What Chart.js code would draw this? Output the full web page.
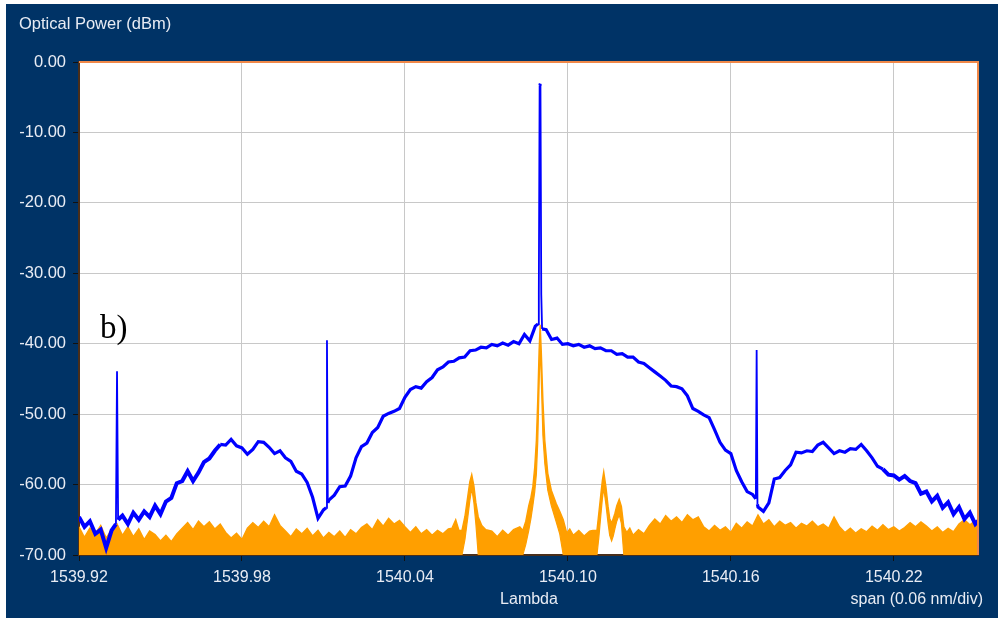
<!DOCTYPE html>
<html>
<head>
<meta charset="utf-8">
<script src="https://cdn.jsdelivr.net/npm/chart.js@4.4.1/dist/chart.umd.min.js"></script>
<style>
  html, body { margin: 0; padding: 0; background: #ffffff; }
</style>
</head>
<body>
<canvas id="osaChart" width="1000" height="621"></canvas>
<script>
// Spectre OSA : trace bleue (avec pompe) et trace orange (sans), en dBm

const xTickValues = [1539.92, 1539.98, 1540.04, 1540.10, 1540.16, 1540.22];

// trace bleue - lambda (nm)
const blueX = [
  1539.920, 1539.922, 1539.924, 1539.926, 1539.928, 1539.930, 1539.932,
  1539.9336, 1539.9340, 1539.9344,
  1539.936, 1539.938, 1539.940, 1539.942, 1539.944, 1539.946, 1539.948, 1539.950,
  1539.952, 1539.954, 1539.956, 1539.958, 1539.960, 1539.962, 1539.964, 1539.966,
  1539.968, 1539.970, 1539.972, 1539.974, 1539.976, 1539.978, 1539.980, 1539.982,
  1539.984, 1539.986, 1539.988, 1539.990, 1539.992, 1539.994, 1539.996, 1539.998,
  1540.000, 1540.002, 1540.004, 1540.006, 1540.008, 1540.010,
  1540.0110, 1540.0113, 1540.0116,
  1540.012, 1540.014, 1540.016, 1540.018, 1540.020, 1540.022, 1540.024, 1540.026,
  1540.028, 1540.030, 1540.032, 1540.034, 1540.036, 1540.038, 1540.040, 1540.042,
  1540.044, 1540.046, 1540.048, 1540.050, 1540.052, 1540.054, 1540.056, 1540.058,
  1540.060, 1540.062, 1540.064, 1540.066, 1540.068, 1540.070, 1540.072, 1540.074,
  1540.076, 1540.078, 1540.080, 1540.082, 1540.084, 1540.086, 1540.088,
  1540.0890, 1540.0893, 1540.0896, 1540.0899, 1540.0902, 1540.0905,
  1540.092, 1540.094, 1540.096, 1540.098, 1540.100, 1540.102, 1540.104, 1540.106,
  1540.108, 1540.110, 1540.112, 1540.114, 1540.116, 1540.118, 1540.120, 1540.122,
  1540.124, 1540.126, 1540.128, 1540.130, 1540.132, 1540.134, 1540.136, 1540.138,
  1540.140, 1540.142, 1540.144, 1540.146, 1540.148, 1540.150, 1540.152, 1540.154,
  1540.156, 1540.158, 1540.160, 1540.162, 1540.164, 1540.166, 1540.168,
  1540.1692, 1540.1695, 1540.1698,
  1540.170, 1540.172, 1540.174, 1540.176, 1540.178, 1540.180, 1540.182, 1540.184,
  1540.186, 1540.188, 1540.190, 1540.192, 1540.194, 1540.196, 1540.198, 1540.200,
  1540.202, 1540.204, 1540.206, 1540.208, 1540.210, 1540.212, 1540.214, 1540.216,
  1540.218, 1540.220, 1540.222, 1540.224, 1540.226, 1540.228, 1540.230, 1540.232,
  1540.234, 1540.236, 1540.238, 1540.240, 1540.242, 1540.244, 1540.246, 1540.248,
  1540.250, 1540.252
];
// trace bleue - puissance (dBm)
const blueY = [
  -64.6, -66.0, -65.2, -67.0, -66.4, -69.0, -66.5,
  -65.6, -43.9, -65.0,
  -64.4, -65.6, -64.0, -65.0, -63.8, -64.6, -63.0, -64.2,
  -62.4, -61.9, -59.8, -59.5, -58.1, -59.5, -58.3, -56.8,
  -56.3, -55.2, -54.3, -54.4, -53.6, -54.5, -54.8, -55.7,
  -55.0, -53.9, -54.0, -54.7, -55.6, -55.2, -56.2, -56.7,
  -58.1, -58.5, -59.7, -61.8, -64.8, -63.6,
  -63.3, -39.5, -62.6,
  -62.2, -61.5, -60.3, -60.2, -58.8, -56.2, -54.6, -54.1,
  -52.6, -51.9, -50.3, -49.9, -49.6, -49.2, -47.6, -46.5,
  -46.1, -46.3, -45.4, -44.8, -43.7, -43.3, -42.6, -42.5,
  -42.0, -41.9, -41.0, -40.9, -40.5, -40.6, -40.1, -40.3,
  -39.9, -40.2, -39.7, -40.0, -38.7, -39.6, -37.5,
  -37.2, -33.0, -3.3, -3.1, -33.0, -37.9,
  -38.0, -39.4, -39.2, -40.1, -40.0, -40.3, -40.1, -40.5,
  -40.3, -40.7, -40.6, -41.0, -41.0, -41.5, -41.4, -41.9,
  -41.9, -42.6, -42.8, -43.4, -44.0, -44.6, -45.2, -46.0,
  -46.1, -46.4, -47.4, -49.2, -49.6, -50.1, -50.5, -52.2,
  -54.0, -55.1, -55.6, -58.0, -59.6, -61.0, -61.4,
  -62.0, -40.9, -62.8,
  -63.2, -63.8, -62.6, -59.2, -59.0, -58.0, -57.2, -55.4,
  -55.5, -55.2, -55.3, -54.4, -54.0, -54.8, -55.6, -55.2,
  -55.4, -54.9, -55.0, -54.3, -55.2, -56.2, -57.4, -57.8,
  -58.6, -58.7, -59.3, -58.8, -59.5, -59.8, -61.3, -61.0,
  -62.4, -61.6, -63.3, -62.5, -64.2, -63.2, -64.9, -64.0,
  -65.6, -64.8
];

// trace orange - lambda (nm)
const orangeX = [
  1539.920, 1539.922, 1539.924, 1539.926, 1539.928, 1539.930, 1539.932, 1539.934,
  1539.936, 1539.938, 1539.940, 1539.942, 1539.944, 1539.946, 1539.948, 1539.950,
  1539.952, 1539.954, 1539.956, 1539.958, 1539.960, 1539.962, 1539.964, 1539.966,
  1539.968, 1539.970, 1539.972, 1539.974, 1539.976, 1539.978, 1539.980, 1539.982,
  1539.984, 1539.986, 1539.988, 1539.990, 1539.992, 1539.994, 1539.996, 1539.998,
  1540.000, 1540.002, 1540.004, 1540.006, 1540.008, 1540.010, 1540.012, 1540.014,
  1540.016, 1540.018, 1540.020, 1540.022, 1540.024, 1540.026, 1540.028, 1540.030,
  1540.032, 1540.034, 1540.036, 1540.038, 1540.040, 1540.042, 1540.044, 1540.046,
  1540.048, 1540.050, 1540.052, 1540.054, 1540.056,
  1540.0573, 1540.0587, 1540.0599, 1540.0610, 1540.0621, 1540.0632, 1540.0639,
  1540.0646, 1540.0654, 1540.0661, 1540.0670, 1540.0683, 1540.0698,
  1540.072, 1540.074, 1540.076, 1540.078, 1540.080,
  1540.0823, 1540.0834, 1540.0845, 1540.0856, 1540.0864, 1540.0871, 1540.0878,
  1540.0884, 1540.0889, 1540.0894, 1540.0898, 1540.0902, 1540.0908, 1540.0915,
  1540.0926, 1540.0939, 1540.0957, 1540.0970, 1540.0983, 1540.0996, 1540.1007,
  1540.102, 1540.104, 1540.106, 1540.108,
  1540.1092, 1540.1107, 1540.1114, 1540.1121, 1540.1127, 1540.1132, 1540.1140,
  1540.1148, 1540.1154, 1540.1161, 1540.1167, 1540.1173, 1540.1180, 1540.1189,
  1540.1197, 1540.1206, 1540.1217, 1540.1228,
  1540.124, 1540.126, 1540.128, 1540.130, 1540.132, 1540.134, 1540.136, 1540.138,
  1540.140, 1540.142, 1540.144, 1540.146, 1540.148, 1540.150, 1540.152, 1540.154,
  1540.156, 1540.158, 1540.160, 1540.162, 1540.164, 1540.166, 1540.168, 1540.170,
  1540.172, 1540.174, 1540.176, 1540.178, 1540.180, 1540.182, 1540.184, 1540.186,
  1540.188, 1540.190, 1540.192, 1540.194, 1540.196, 1540.198, 1540.200, 1540.202,
  1540.204, 1540.206, 1540.208, 1540.210, 1540.212, 1540.214, 1540.216, 1540.218,
  1540.220, 1540.222, 1540.224, 1540.226, 1540.228, 1540.230, 1540.232, 1540.234,
  1540.236, 1540.238, 1540.240, 1540.242, 1540.244, 1540.246, 1540.248, 1540.250,
  1540.252
];
// haut de l'enveloppe orange (dBm)
const orangeTop = [
  -66.0, -67.5, -66.2, -67.0, -65.8, -67.6, -66.4, -65.6,
  -67.2, -66.0, -67.4, -66.3, -67.8, -66.6, -67.1, -68.0,
  -67.2, -68.1, -67.0, -66.2, -65.4, -66.4, -65.2, -66.0,
  -65.3, -66.3, -65.6, -66.8, -67.6, -66.9, -67.8, -66.2,
  -65.4, -66.1, -65.2, -66.0, -64.3, -65.8, -66.6, -67.4,
  -66.3, -67.0, -66.2, -67.3, -66.5, -67.6, -66.8, -67.4,
  -66.6, -67.5, -66.4, -67.0, -66.1, -65.6, -66.4, -65.0,
  -65.9, -64.8, -65.6, -65.1, -66.0, -66.8, -66.0, -67.0,
  -66.4, -67.2, -66.5, -67.0, -66.3,
  -66.2, -65.0, -66.5, -66.5, -64.5, -61.5, -59.6,
  -58.6, -60.2, -62.5, -64.6, -65.8, -66.4,
  -66.6, -67.4, -66.5, -67.2, -66.4,
  -66.0, -66.5, -65.2, -63.0, -61.8, -60.3, -57.5,
  -53.7, -48.0, -41.0, -37.3, -41.0, -48.0, -53.7,
  -58.4, -60.8, -62.7, -63.8, -65.0, -66.9, -66.3,
  -67.2, -66.5, -67.3, -66.6,
  -66.5, -66.5, -64.0, -61.5, -59.4, -58.2, -60.3,
  -63.1, -64.8, -65.5, -64.8, -64.1, -63.0, -62.1,
  -63.1, -66.0, -66.8, -66.2,
  -67.2, -66.4, -67.0, -65.8, -64.9, -65.6, -64.4, -65.2,
  -64.6, -65.4, -64.3, -65.0, -64.6, -66.0, -66.6, -65.8,
  -66.5, -66.0, -66.8, -65.5, -66.2, -65.3, -65.9, -64.3,
  -65.6, -65.0, -66.0, -65.2, -65.8, -65.4, -66.2, -65.5,
  -65.9, -65.2, -66.0, -65.6, -66.2, -64.6, -66.0, -66.8,
  -66.2, -66.9, -66.3, -66.7, -65.9, -66.5, -65.7, -66.4,
  -66.0, -66.6, -66.1, -65.4, -66.0, -65.3, -65.9, -66.6,
  -66.0, -66.8, -66.2, -66.7, -65.6, -65.0, -65.7, -65.1,
  -65.6
];
// bas de l'enveloppe orange (dBm)
const orangeBottom = [
  -70, -70, -70, -70, -70, -70, -70, -70,
  -70, -70, -70, -70, -70, -70, -70, -70,
  -70, -70, -70, -70, -70, -70, -70, -70,
  -70, -70, -70, -70, -70, -70, -70, -70,
  -70, -70, -70, -70, -70, -70, -70, -70,
  -70, -70, -70, -70, -70, -70, -70, -70,
  -70, -70, -70, -70, -70, -70, -70, -70,
  -70, -70, -70, -70, -70, -70, -70, -70,
  -70, -70, -70, -70, -70,
  -70, -70, -70, -70, -67.8, -64.5, -62.3,
  -60.5, -62.6, -65.5, -70, -70, -70,
  -70, -70, -70, -70, -70,
  -70, -70, -68.5, -66.5, -64.8, -63.0, -61.0,
  -58.5, -54.0, -46.0, -40.0, -45.0, -53.0, -57.0,
  -60.8, -63.0, -65.3, -67.0, -70, -70, -70,
  -70, -70, -70, -70,
  -70, -70, -67.5, -64.5, -62.0, -60.5, -62.8,
  -65.5, -67.2, -68.0, -67.3, -66.3, -65.2, -64.3,
  -65.5, -70, -70, -70,
  -70, -70, -70, -70, -70, -70, -70, -70,
  -70, -70, -70, -70, -70, -70, -70, -70,
  -70, -70, -70, -70, -70, -70, -70, -70,
  -70, -70, -70, -70, -70, -70, -70, -70,
  -70, -70, -70, -70, -70, -70, -70, -70,
  -70, -70, -70, -70, -70, -70, -70, -70,
  -70, -70, -70, -70, -70, -70, -70, -70,
  -70, -70, -70, -70, -70, -70, -70, -70,
  -70
];

const BG = "#003366";
const ORANGE = "#ff9f00";
const TXT = "#e8ecf4";
const FONT = "'Liberation Sans', Arial, sans-serif";

// cadre sombre, zone blanche, bords et textes
const osaFrame = {
  id: "osaFrame",
  beforeDraw: chart => {
    const ctx = chart.ctx;
    const a = chart.chartArea;
    ctx.save();
    ctx.fillStyle = "#ffffff";
    ctx.fillRect(0, 0, chart.width, chart.height);
    ctx.fillStyle = BG;
    ctx.fillRect(6, 4, 992, 614);
    ctx.fillStyle = "#ffffff";
    ctx.fillRect(a.left, a.top, a.right - a.left, a.bottom - a.top);
    ctx.restore();
  },
  afterDraw: chart => {
    const ctx = chart.ctx;
    const a = chart.chartArea;
    ctx.save();
    // bords haut et droit orange
    ctx.strokeStyle = "#f08848";
    ctx.lineWidth = 2;
    ctx.beginPath();
    ctx.moveTo(a.left, a.top);
    ctx.lineTo(a.right, a.top);
    ctx.lineTo(a.right, a.bottom);
    ctx.stroke();

    ctx.fillStyle = TXT;
    ctx.font = "16.5px " + FONT;
    ctx.textBaseline = "middle";
    ctx.textAlign = "left";
    ctx.fillText("Optical Power (dBm)", 19, 24);

    ctx.font = "16px " + FONT;
    ctx.textAlign = "center";
    ctx.fillText("Lambda", 529, 600);
    ctx.textAlign = "right";
    ctx.fillText("span (0.06 nm/div)", 983, 600);

    ctx.fillStyle = "#000000";
    ctx.font = "33px 'Liberation Serif', 'Times New Roman', serif";
    ctx.textAlign = "left";
    ctx.textBaseline = "alphabetic";
    ctx.fillText("b)", 100, 338);
    ctx.restore();
  }
};

// trait plus épais là où le bruit est fort, fin pour les raies
const blueWidth = c => {
  if (Math.abs(c.p1.parsed.y - c.p0.parsed.y) > 3.5) return 1.8;
  const x = c.p0.parsed.x;
  return (x < 1539.972 || x > 1540.214) ? 4 : 3.2;
};

const ctx = document.getElementById("osaChart").getContext("2d");

new Chart(ctx, {
  type: "line",
  data: {
    datasets: [
      {
        label: "blue",
        data: blueX.map((x, i) => ({ x: x, y: blueY[i] })),
        borderColor: "#0000ff",
        borderWidth: 3.2,
        segment: { borderWidth: blueWidth },
        pointRadius: 0,
        tension: 0,
        fill: false
      },
      {
        label: "orangeTop",
        data: orangeX.map((x, i) => ({ x: x, y: orangeTop[i] })),
        borderColor: ORANGE,
        backgroundColor: ORANGE,
        borderWidth: 1.4,
        pointRadius: 0,
        tension: 0,
        fill: "+1"
      },
      {
        label: "orangeBottom",
        data: orangeX.map((x, i) => ({ x: x, y: orangeBottom[i] })),
        borderColor: ORANGE,
        borderWidth: 1.2,
        pointRadius: 0,
        tension: 0,
        fill: false
      }
    ]
  },
  options: {
    responsive: false,
    animation: false,
    layout: { padding: { top: 62, right: 22, left: 0, bottom: 0 } },
    plugins: {
      legend: { display: false },
      tooltip: { enabled: false }
    },
    scales: {
      x: {
        type: "linear",
        min: 1539.92,
        max: 1540.251,
        afterBuildTicks: scale => {
          scale.ticks = xTickValues.map(v => ({ value: v }));
        },
        afterFit: scale => { scale.height = 66; },
        ticks: {
          color: TXT,
          font: { family: FONT, size: 16 },
          padding: 7,
          maxRotation: 0,
          autoSkip: false,
          callback: v => Number(v).toFixed(2)
        },
        grid: { color: "#c8c8c8", tickColor: "#111111", tickLength: 6 },
        border: { color: "#4a2e1a", width: 2 }
      },
      y: {
        min: -70,
        max: 0,
        afterFit: scale => { scale.width = 79; },
        ticks: {
          stepSize: 10,
          color: TXT,
          font: { family: FONT, size: 16.5 },
          padding: 7,
          callback: v => Number(v).toFixed(2)
        },
        grid: { color: "#c8c8c8", tickColor: "#111111", tickLength: 6 },
        border: { color: "#4a2e1a", width: 2 }
      }
    }
  },
  plugins: [osaFrame]
});
</script>
</body>
</html>
